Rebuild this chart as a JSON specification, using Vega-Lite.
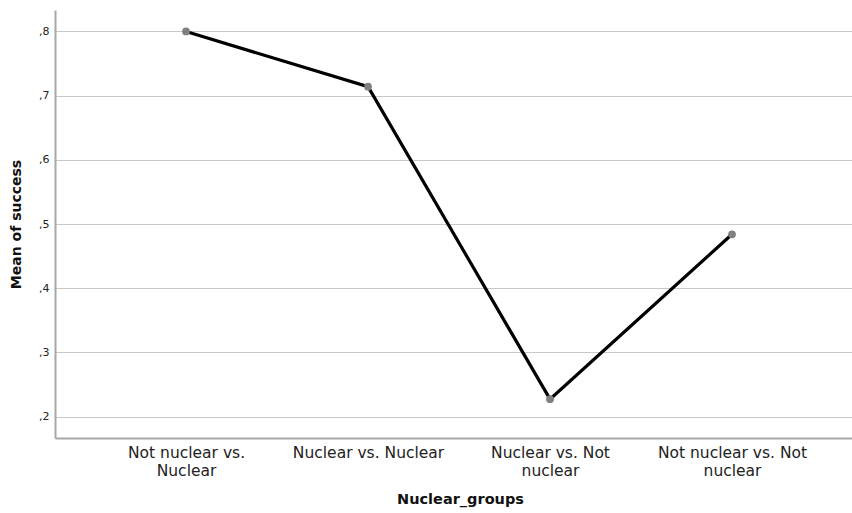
{
  "$schema": "https://vega.github.io/schema/vega-lite/v6.json",
  "width": 797,
  "height": 428,
  "autosize": "none",
  "padding": {"left": 55, "top": 10, "right": 0, "bottom": 75},
  "background": "white",
  "config": {
    "view": {"stroke": null},
    "font": "DejaVu Sans"
  },
  "data": {
    "values": [
      {"group": "Not nuclear vs. Nuclear", "mean": 0.800},
      {"group": "Nuclear vs. Nuclear", "mean": 0.714},
      {"group": "Nuclear vs. Not nuclear", "mean": 0.227},
      {"group": "Not nuclear vs. Not nuclear", "mean": 0.484}
    ]
  },
  "encoding": {
    "x": {
      "field": "group",
      "type": "nominal",
      "sort": null,
      "scale": {"type": "point", "padding": 0.6896, "align": 0.522},
      "axis": {
        "title": "Nuclear_groups",
        "titleFont": "DejaVu Sans",
        "titleFontSize": 14.5,
        "titleFontWeight": "bold",
        "titleColor": "#111",
        "titlePadding": 14,
        "titleX": 405,
        "labelAngle": 0,
        "labelFontSize": 15.5,
        "labelColor": "#222",
        "labelPadding": 7,
        "labelLineHeight": 18,
        "ticks": false,
        "grid": false,
        "domainColor": "#a8a8a8",
        "domainWidth": 2,
        "labelExpr": "datum.value == 'Not nuclear vs. Nuclear' ? ['Not nuclear vs.', 'Nuclear'] : datum.value == 'Nuclear vs. Not nuclear' ? ['Nuclear vs. Not', 'nuclear'] : datum.value == 'Not nuclear vs. Not nuclear' ? ['Not nuclear vs. Not', 'nuclear'] : datum.value"
      }
    },
    "y": {
      "field": "mean",
      "type": "quantitative",
      "scale": {"domain": [0.1665, 0.8335], "nice": false, "zero": false},
      "axis": {
        "title": "Mean of success",
        "titleFontSize": 14,
        "titleFontWeight": "bold",
        "titleColor": "#111",
        "titlePadding": 15,
        "values": [0.2, 0.3, 0.4, 0.5, 0.6, 0.7, 0.8],
        "labelExpr": "replace(format(datum.value, '.1f'), '0.', ',')",
        "labelFontSize": 11,
        "labelColor": "#222",
        "labelPadding": 6,
        "ticks": false,
        "grid": true,
        "gridColor": "#c8c8c8",
        "gridWidth": 1.2,
        "domainColor": "#a8a8a8",
        "domainWidth": 2
      }
    }
  },
  "layer": [
    {"mark": {"type": "line", "color": "#000000", "strokeWidth": 3.2}},
    {"mark": {"type": "point", "filled": true, "color": "#808080", "opacity": 1, "size": 60}}
  ]
}
